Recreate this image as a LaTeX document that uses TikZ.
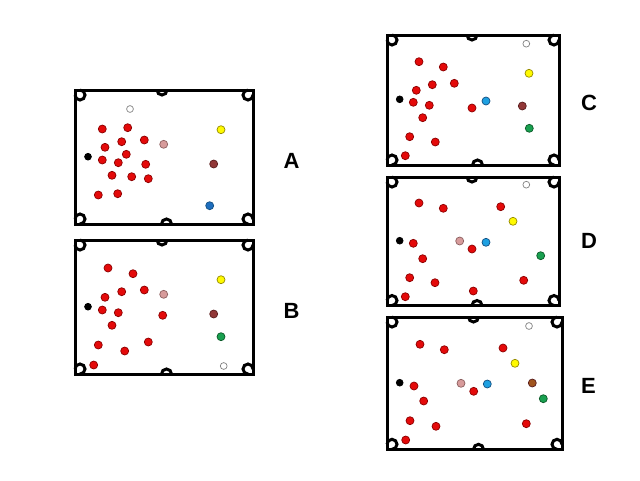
\documentclass[tikz,border=0pt]{standalone}
\usepackage{fontspec}
\setmainfont{Liberation Sans}
\definecolor{cred}{RGB}{228,10,10}
\definecolor{credl}{RGB}{140,0,0}
\definecolor{cpink}{RGB}{215,155,155}
\definecolor{cpinkl}{RGB}{140,95,95}
\definecolor{cyel}{RGB}{255,250,0}
\definecolor{cyell}{RGB}{150,140,0}
\definecolor{cbrown}{RGB}{145,55,55}
\definecolor{cbrownl}{RGB}{90,30,30}
\definecolor{cbrownE}{RGB}{160,85,30}
\definecolor{cbluea}{RGB}{30,110,190}
\definecolor{cblue}{RGB}{30,160,225}
\definecolor{cbluel}{RGB}{20,80,130}
\definecolor{cgreen}{RGB}{25,160,80}
\definecolor{cgreenl}{RGB}{10,90,40}
\definecolor{cgray}{RGB}{130,130,130}
\tikzset{
  border/.style={line width=3pt, line join=miter},
  pocket/.style={line width=3pt},
  bal/.style={line width=0.7pt},
  redb/.style={bal, fill=cred, draw=credl},
  pinkb/.style={bal, fill=cpink, draw=cpinkl},
  whiteb/.style={bal, fill=white, draw=cgray},
  yellowb/.style={bal, fill=cyel, draw=cyell},
  brownb/.style={bal, fill=cbrown, draw=cbrownl},
  brownEb/.style={bal, fill=cbrownE, draw=cbrownl},
  blueAb/.style={bal, fill=cbluea, draw=cbluel},
  blueb/.style={bal, fill=cblue, draw=cbluel},
  greenb/.style={bal, fill=cgreen, draw=cgreenl},
  blackb/.style={bal, fill=black, draw=black},
  lbl/.style={font=\fontsize{22}{26}\selectfont\bfseries, inner sep=0pt}
}
% #1 x1, #2 y1, #3 x2, #4 y2, #5 top middle x, #6 bottom middle x
% angles measured with y pointing down the page (90 = down)
\newcommand\pooltable[6]{%
  \draw[border] (#1,#2) rectangle (#3,#4);
  \draw[pocket] (#1,{#2+5}) arc[start angle=180, end angle=-90, radius=5];
  \draw[pocket] ({#3-5},#2) arc[start angle=270, end angle=0, radius=5];
  \draw[pocket] ({#1+5},#4) arc[start angle=90, end angle=-180, radius=5];
  \draw[pocket] (#3,{#4-5}) arc[start angle=0, end angle=-270, radius=5];
  \draw[pocket] ({#5-5},#2) arc[start angle=180, end angle=0, radius=5];
  \draw[pocket] ({#6+5},#4) arc[start angle=0, end angle=-180, radius=5];
}
\newcommand\ball[3]{\draw[#1] (#2,#3) circle[radius=4pt];}
\newcommand\sball[3]{\draw[#1] (#2,#3) circle[radius=3.4pt];}
\begin{document}
\begin{tikzpicture}[x=1pt,y=-1pt]
\fill[white] (0,0) rectangle (640,480);
\useasboundingbox (0,0) rectangle (640,480);

% ---------- Table A ----------
\pooltable{75}{90}{253}{224}{162}{166.5}
\sball{whiteb}{130}{109}
\foreach \p in {(102.3,129),(127.7,127.7),(144.3,140),(121.7,141.7),(105,147.3),(126.3,154.3),(102.3,160),(118.3,162.7),(145.7,164.3),(112,175.3),(131.7,176.7),(148.3,178.7),(98.3,195),(117.7,193.7)}
  {\draw[redb] \p circle[radius=4pt];}
\ball{pinkb}{163.7}{144.3}
\sball{blackb}{88}{156.7}
\ball{yellowb}{221}{129.7}
\ball{brownb}{213.7}{164}
\ball{blueAb}{209.7}{205.7}
\node[lbl] (labA) at (291.5,161) {A};

% ---------- Table B ----------
\pooltable{75}{240}{253}{374}{162}{166.5}
\foreach \p in {(108,268),(133,273.7),(144.3,290),(121.7,291.7),(105,297.3),(102.3,310),(118.3,312.7),(162.7,315.3),(112,325.3),(98.3,345),(124.7,351),(148.3,342),(93.7,365)}
  {\draw[redb] \p circle[radius=4pt];}
\ball{pinkb}{163.7}{294.3}
\sball{blackb}{88}{306.7}
\ball{yellowb}{221}{279.7}
\ball{brownb}{213.7}{314}
\ball{greenb}{221}{336.7}
\sball{whiteb}{223.7}{366}
\node[lbl] (labB) at (291.5,311) {B};

% ---------- Table C ----------
\pooltable{387}{35}{559}{165}{472}{477.5}
\sball{whiteb}{526.3}{43.7}
\foreach \p in {(419,61.7),(443.3,67),(432.3,84.7),(454.3,83.3),(416.3,90.3),(413.3,102.3),(429.3,105.3),(472,108),(422.7,117.7),(409.7,136.7),(435.3,142),(405.3,155.7)}
  {\draw[redb] \p circle[radius=4pt];}
\sball{blackb}{399.7}{99.3}
\ball{yellowb}{529}{73.3}
\ball{blueb}{486}{101}
\ball{brownb}{522.3}{106}
\ball{greenb}{529.3}{128.3}
\node[lbl] (labC) at (589,103) {C};

% ---------- Table D ----------
\pooltable{387}{177}{559}{305.5}{472}{477}
\sball{whiteb}{526.3}{184.7}
\foreach \p in {(419,203),(443.3,208.3),(500.7,206.7),(413.3,243.3),(472,249),(422.7,258.7),(409.7,277.7),(435,282.7),(523.7,280.3),(473.3,291),(405.3,296.7)}
  {\draw[redb] \p circle[radius=4pt];}
\sball{blackb}{399.7}{240.7}
\ball{yellowb}{513}{221.3}
\ball{pinkb}{459.7}{241}
\ball{blueb}{486}{242.3}
\ball{greenb}{540.7}{255.7}
\node[lbl] (labD) at (589,241) {D};

% ---------- Table E ----------
\pooltable{387}{317}{562}{449.3}{473.5}{478.5}
\sball{whiteb}{529}{326}
\foreach \p in {(420,344.3),(444.3,349.7),(503,348),(414,386),(473.7,391.3),(423.7,401),(410,420.7),(436,426.3),(526.3,423.7),(405.7,440)}
  {\draw[redb] \p circle[radius=4pt];}
\sball{blackb}{399.7}{382.7}
\ball{yellowb}{515}{363.3}
\ball{pinkb}{461}{383.3}
\ball{blueb}{487.3}{384}
\ball{brownEb}{532.3}{383}
\ball{greenb}{543.3}{398.7}
\node[lbl] (labE) at (588.5,386) {E};
\end{tikzpicture}
\end{document}
